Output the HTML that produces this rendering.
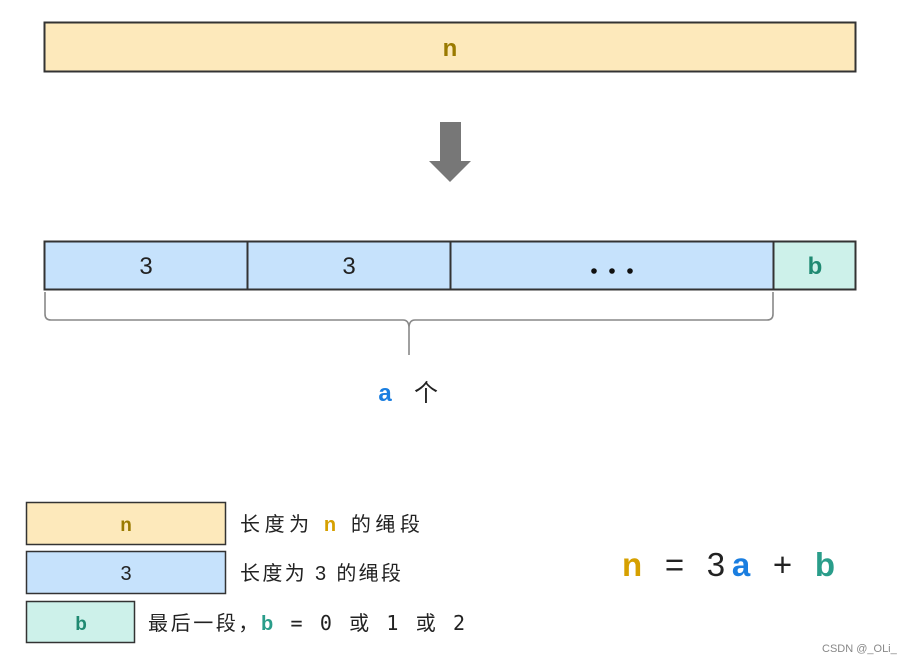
<!DOCTYPE html>
<html><head><meta charset="utf-8"><style>
html,body{margin:0;padding:0;background:#fff;}
svg{display:block;}
text{font-family:"Liberation Sans","Noto Sans CJK SC",sans-serif;}
.m{font-family:"DejaVu Sans Mono","Liberation Mono","Noto Sans CJK SC",monospace;}
</style></head><body>
<svg width="906" height="663" viewBox="0 0 906 663" xmlns="http://www.w3.org/2000/svg">
<rect x="44.5" y="22.5" width="811" height="49" fill="#fde9bb" stroke="#333" stroke-width="2"/>
<text x="450" y="56" text-anchor="middle" font-size="24" font-weight="bold" fill="#9a7a00">n</text>
<polygon points="440,122 461,122 461,161 471,161 450,182 429,161 440,161" fill="#777"/>
<rect x="44.5" y="241.5" width="729" height="48" fill="#c6e2fc" stroke="#333" stroke-width="2"/>
<rect x="773.5" y="241.5" width="82" height="48" fill="#cdf1ea" stroke="#333" stroke-width="2"/>
<line x1="247.5" y1="241" x2="247.5" y2="290" stroke="#333" stroke-width="2"/>
<line x1="450.5" y1="241" x2="450.5" y2="290" stroke="#333" stroke-width="2"/>
<text x="146" y="274" text-anchor="middle" font-size="24" fill="#222">3</text>
<text x="349" y="274" text-anchor="middle" font-size="24" fill="#222">3</text>
<circle cx="594" cy="271" r="2.8" fill="#111"/><circle cx="612" cy="271" r="2.8" fill="#111"/><circle cx="630" cy="271" r="2.8" fill="#111"/>
<text x="815" y="274" text-anchor="middle" font-size="24" font-weight="bold" fill="#1f8a72">b</text>
<path d="M45,292 V314 Q45,320 51,320 H403 Q409,320 409,328 V355 M409,328 Q409,320 415,320 H767 Q773,320 773,314 V292" fill="none" stroke="#888" stroke-width="1.6"/>
<text x="385" y="401" text-anchor="middle" font-size="24" font-weight="bold" fill="#1a7ee0">a</text>
<text x="426" y="401" text-anchor="middle" font-size="24" fill="#222">个</text>
<rect x="26.5" y="502.5" width="199" height="42" fill="#fde9bb" stroke="#333" stroke-width="1.5"/>
<text x="126" y="531" text-anchor="middle" font-size="19" font-weight="bold" fill="#9a7a00">n</text>
<rect x="26.5" y="551.5" width="199" height="42" fill="#c6e2fc" stroke="#333" stroke-width="1.5"/>
<text x="126" y="580" text-anchor="middle" font-size="20" fill="#222">3</text>
<rect x="26.5" y="601.5" width="108" height="41" fill="#cdf1ea" stroke="#333" stroke-width="1.5"/>
<text x="81" y="630" text-anchor="middle" font-size="19" font-weight="bold" fill="#1f8a72">b</text>
<text x="240" y="531" font-size="20" fill="#222" textLength="180" lengthAdjust="spacing">长度为 <tspan fill="#d6a000" font-weight="bold">n</tspan> 的绳段</text>
<text x="240" y="580" font-size="20" fill="#222" textLength="161" lengthAdjust="spacing">长度为 3 的绳段</text>
<text x="148" y="630" font-size="20" fill="#222" textLength="317" lengthAdjust="spacing">最后一段，<tspan fill="#2a9d8a" font-weight="bold">b</tspan><tspan class="m"> = 0 </tspan>或<tspan class="m"> 1 </tspan>或<tspan class="m"> 2</tspan></text>
<text x="622" y="576" font-size="33" fill="#222" textLength="213" lengthAdjust="spacing"><tspan fill="#d6a000" font-weight="bold">n</tspan> = 3<tspan fill="#1a7ee0" font-weight="bold">a</tspan> + <tspan fill="#2a9d8a" font-weight="bold">b</tspan></text>
<text x="822" y="652" font-size="11" fill="#888">CSDN @_OLi_</text>
</svg>
</body></html>
